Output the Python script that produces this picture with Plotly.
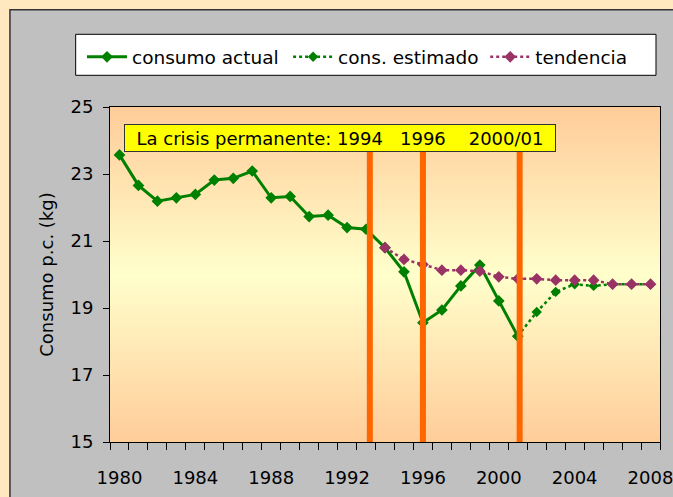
import plotly.graph_objects as go

# ---- data ----
years_actual = list(range(1980, 2002))
consumo_actual = [23.57, 22.66, 22.19, 22.29, 22.39, 22.82, 22.87, 23.09, 22.29, 22.33,
                  21.73, 21.77, 21.40, 21.35, 20.80, 20.08, 18.56, 18.94, 19.66, 20.28,
                  19.21, 18.16]
years_estimado = list(range(2001, 2009))
cons_estimado = [18.16, 18.88, 19.48, 19.71, 19.66, 19.71, 19.71, 19.71]
years_tendencia = list(range(1994, 2009))
tendencia = [20.80, 20.45, 20.30, 20.13, 20.13, 20.10, 19.93, 19.87, 19.87, 19.83,
             19.83, 19.83, 19.71, 19.71, 19.71]
crisis_marks = [1993.2, 1996.0, 2001.1]
crisis_top = 23.66
x_tick_years = [1980, 1984, 1988, 1992, 1996, 2000, 2004, 2008]
y_ticks = [15, 17, 19, 21, 23, 25]

FONT = "DejaVu Sans"
W, H = 673, 497
L, R, T, B = 110, 13.3, 106.7, 55.3
pw = W - L - R
ph = H - T - B

def px_x(px):
    return (px - L) / pw

def px_y(py):
    return (H - B - py) / ph

fig = go.Figure()

# background gradient of plot area
bg_y = [14 + i * 0.25 for i in range(49)]
bg_z = [[abs(v - 20) / 5.0] * 2 for v in bg_y]
fig.add_trace(go.Heatmap(x=[1970, 2020], y=bg_y, z=bg_z, zsmooth="best",
                         colorscale=[[0, "#FFFFCC"], [1, "#FFCC99"]], zmin=0, zmax=1,
                         showscale=False, hoverinfo="skip", showlegend=False))

fig.add_trace(go.Scatter(x=years_actual, y=consumo_actual, mode="lines+markers",
                         name="consumo actual", legend="legend",
                         line=dict(color="#008000", width=3),
                         marker=dict(symbol="diamond", size=9, color="#008000")))
fig.add_trace(go.Scatter(x=years_estimado, y=cons_estimado, mode="lines+markers",
                         name="cons. estimado", legend="legend2",
                         line=dict(color="#008000", width=2.5, dash="dot"),
                         marker=dict(symbol="diamond", size=8, color="#008000")))
fig.add_trace(go.Scatter(x=years_tendencia, y=tendencia, mode="lines+markers",
                         name="tendencia", legend="legend3",
                         line=dict(color="#993366", width=2.5, dash="dot"),
                         marker=dict(symbol="diamond", size=9, color="#993366")))

shapes = []
# gray chart frame
shapes.append(dict(type="rect", xref="paper", yref="paper", layer="below",
                   x0=px_x(10), x1=px_x(700), y0=px_y(9.5), y1=px_y(520),
                   fillcolor="#C0C0C0", line=dict(color="#333333", width=1.5)))
# legend box
shapes.append(dict(type="rect", xref="paper", yref="paper", layer="above",
                   x0=px_x(75.7), x1=px_x(655.7), y0=px_y(75), y1=px_y(34),
                   fillcolor="white", line=dict(color="black", width=1)))
for xv in crisis_marks:
    shapes.append(dict(type="line", xref="x", yref="y", layer="above",
                       x0=xv, x1=xv, y0=15, y1=crisis_top,
                       line=dict(color="#FF6600", width=6)))

def leg(px_left):
    return dict(orientation="h", x=px_x(px_left), y=px_y(38), xanchor="left",
                yanchor="top", bgcolor="rgba(0,0,0,0)", borderwidth=0,
                font=dict(family=FONT, size=18.5, color="black"), itemwidth=40)

fig.update_layout(
    width=W, height=H,
    margin=dict(l=L, r=R, t=T, b=B, pad=0, autoexpand=False),
    paper_bgcolor="#FFE8C0",
    plot_bgcolor="#FFE8B0",
    font=dict(family=FONT, size=18, color="black"),
    shapes=shapes,
    showlegend=True,
    legend=leg(82),
    legend2=leg(288),
    legend3=leg(485),
    annotations=[dict(xref="paper", yref="paper", x=px_x(124), y=px_y(137.9),
                      xanchor="left", yanchor="middle", showarrow=False,
                      text="La crisis permanente: 1994\u00a0\u00a0 1996\u00a0\u00a0\u00a0 2000/01",
                      font=dict(family=FONT, size=18, color="black"),
                      bgcolor="#FFFF00", bordercolor="#333333", borderwidth=1,
                      borderpad=2, width=426, height=22, align="center")],
)

fig.update_xaxes(range=[1979.5, 2008.5], tickmode="array", tickvals=x_tick_years,
                 ticktext=[str(v) for v in x_tick_years], ticks="",
                 ticklabelstandoff=19, ticklabeloverflow="allow", automargin=False,
                 showgrid=False, zeroline=False, showline=True, linecolor="black",
                 linewidth=1, mirror=True,
                 tickfont=dict(family=FONT, size=18, color="black"),
                 minor=dict(ticks="outside", ticklen=7, tickcolor="black", tickwidth=1,
                            tick0=1979.5, dtick=1, showgrid=False))
fig.update_yaxes(range=[15, 25], tickmode="array", tickvals=y_ticks, ticks="outside",
                 ticklen=6, tickcolor="black", showgrid=True, gridcolor="black",
                 gridwidth=1, zeroline=False, showline=True, linecolor="black",
                 linewidth=1, mirror=True, ticklabelstandoff=6, automargin=False,
                 tickfont=dict(family=FONT, size=18, color="black"),
                 title=dict(text="Consumo p.c. (kg)", standoff=12,
                            font=dict(family=FONT, size=18, color="black")))

fig.write_html("out.html", config={"displayModeBar": False},
               post_script="document.body.style.margin='0px';document.body.style.overflow='hidden';")
